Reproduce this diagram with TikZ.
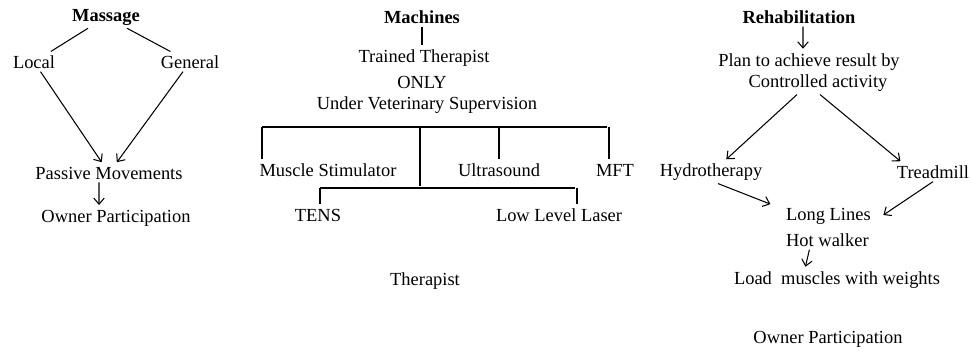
\documentclass[tikz,border=0pt]{standalone}
\usepackage{fontspec}
\setmainfont{Liberation Serif}
\usetikzlibrary{arrows.meta}

\begin{document}
\begin{tikzpicture}[
            x = 0.02cm, y = -0.02cm, % one unit = one pixel, y downwards
            > = {Straight Barb[length=3.5pt,width=6pt]}, % open arrow head
            shorten > = 1pt, % don't touch arrow head to node
            every node/.style = {font=\fontsize{10.5}{12}\selectfont, inner sep=1.5pt},
            head/.style = {font=\fontsize{10.5}{12}\selectfont\bfseries},
            semithick % line style
        ]
\useasboundingbox (0,0) rectangle (971,360);

% Massage
\node[head] (M) at (106,17) {Massage};
\node (L) at (34,62) {Local};
\node (G) at (190,62) {General};
\node (P) at (109,173) {Passive Movements};
\node (O1) at (116,218) {Owner Participation};

 \path [-] (M) edge (L);
 \path [-] (M) edge (G);
 \path [->] (L) edge (P);
 \path [->] (G) edge (P);
 \path [->] ([xshift=-0.2cm]P.south) edge ([xshift=-0.34cm]O1.north);

% Machines
\node[head] (Ma) at (422,17) {Machines};
\node (T) at (424,58) {Trained Therapist};
\node (On) at (422,82) {ONLY};
\node (U) at (427,105) {Under Veterinary Supervision};
\coordinate (bl) at (262,127);
\coordinate (br) at (609,127);
\coordinate (bm) at (420,127);
\node (MS) at (328,170) {Muscle Stimulator};
\node (US) at (499,170) {Ultrasound};
\node (MF) at (615,170) {MFT};
\coordinate (tl) at (320,188);
\coordinate (tr) at (577,188);
\node (TE) at (318,215) {TENS};
\node (LL) at (559,215) {Low Level Laser};
\node (Th) at (425,281) {Therapist};

 \path [-] (Ma.south) edge (Ma.south |- T.north);
 \draw (bl) -- (br);
 \draw (bl) -- (bl |- MS.north);
 \draw (US.north |- bm) -- (US.north);
 \draw (br) -- (br |- MF.north);
 \draw (bm) -- (bm |- tl);
 \draw (tl) -- (tr);
 \draw (tl) -- (tl |- TE.north);
 \draw (tr) -- (tr |- LL.north);

% Rehabilitation
\node[head] (R) at (799,17) {Rehabilitation};
\node (Pl1) at (809,62) {Plan to achieve result by};
\node (Pl2) at (818,83) {Controlled activity};
\node (H) at (711,172) {Hydrotherapy};
\node (Tr) at (933,172) {Treadmill};
\node[anchor=west] (Lo) at (783,216) {Long Lines};
\node[anchor=west] (HW) at (783,240) {Hot walker};
\node (Ld) at (837,280) {Load\ \ muscles with weights};
\node (O2) at (828,339) {Owner Participation};

 \path [->] ([xshift=0.08cm]R.south) edge ([xshift=-0.12cm]Pl1.north);
 \path [->] ([xshift=-0.42cm]Pl2.south) edge ([xshift=0.28cm]H.north);
 \path [->] ([xshift=0.04cm]Pl2.south) edge ([xshift=0.16cm]Tr.north west);
 \path [->] ([xshift=0.14cm]H.south) edge ([xshift=-0.22cm]Lo.north west);
 \path [->] (Tr.south) edge ([xshift=0.16cm]Lo.east);
 \path [->] ([xshift=-0.36cm]HW.south) edge ([xshift=-0.64cm]Ld.north);
\end{tikzpicture}
\end{document}
